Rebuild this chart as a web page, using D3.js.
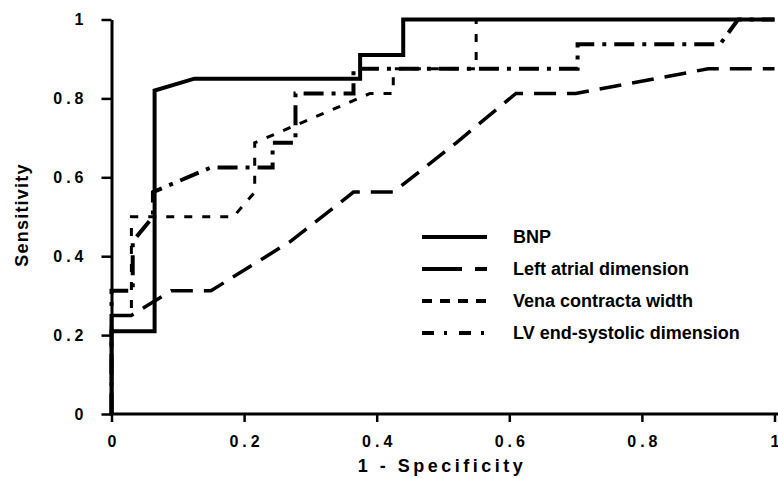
<!DOCTYPE html>
<html>
<head>
<meta charset="utf-8">
<script src="https://cdn.jsdelivr.net/npm/d3@7"></script>
<style>
  body { margin: 0; background: #fff; }
  svg { display: block; }
  text { font-family: "Liberation Sans", Arial, sans-serif; font-weight: bold; fill: #000; }
</style>
</head>
<body>
<div id="roc"></div>
<script>
// ROC curves, points are [1 - specificity, sensitivity]
var bnp = [[0, 0], [0, 0.21], [0.065, 0.21], [0.065, 0.82], [0.125, 0.85], [0.375, 0.85],
           [0.375, 0.91], [0.44, 0.91], [0.44, 1], [1, 1]];
var leftAtrial = [[0, 0], [0, 0.25], [0.03, 0.25], [0.09, 0.3125], [0.15, 0.3125], [0.27, 0.4375],
                  [0.365, 0.5625], [0.425, 0.5625], [0.52, 0.6875], [0.61, 0.8125], [0.70, 0.8125],
                  [0.9, 0.875], [1, 0.875]];
var venaContracta = [[0, 0], [0, 0.25], [0.03, 0.25], [0.03, 0.5], [0.184, 0.5], [0.216, 0.5625],
                     [0.216, 0.6875], [0.39, 0.8125], [0.425, 0.8125], [0.425, 0.875], [0.55, 0.875],
                     [0.55, 1], [1, 1]];
var lvSystolic = [[0, 0], [0, 0.3125], [0.032, 0.3125], [0.032, 0.4375], [0.0625, 0.5], [0.0625, 0.5625],
                  [0.15, 0.625], [0.243, 0.625], [0.243, 0.6875], [0.2775, 0.6875], [0.2775, 0.8125],
                  [0.365, 0.8125], [0.365, 0.875], [0.703, 0.875], [0.703, 0.9375], [0.918, 0.9375],
                  [0.945, 1], [1, 1]];

var seriesNames = ["BNP", "Left atrial dimension", "Vena contracta width", "LV end-systolic dimension"];
var xTicks = [0, 0.2, 0.4, 0.6, 0.8, 1];
var yTicks = [0, 0.2, 0.4, 0.6, 0.8, 1];

var width = 778, height = 478;

var x = d3.scaleLinear().domain([0, 1]).range([111.5, 774.5]);
var y = d3.scaleLinear().domain([0, 1]).range([414, 19.5]);

var svg = d3.select("#roc").append("svg")
    .attr("width", width)
    .attr("height", height);

// styles per series: curve dash, legend dash, width
var styles = [
  {data: bnp, dash: null, legendDash: null, w: 4},
  {data: leftAtrial, dash: "22 11", legendDash: "40 13 12 100", w: 3.5},
  {data: venaContracta, dash: "8 10", legendDash: "10 8", w: 3},
  {data: lvSystolic, dash: "20 8 4 8", legendDash: "12 10 3 12", w: 4}
];

var line = d3.line()
    .x(function(d) { return x(d[0]); })
    .y(function(d) { return y(d[1]); });

styles.forEach(function(s) {
  svg.append("path")
     .datum(s.data)
     .attr("d", line)
     .attr("fill", "none")
     .attr("stroke", "#000")
     .attr("stroke-width", s.w)
     .attr("stroke-dasharray", s.dash);
});

// axes
var xAxis = svg.append("g")
    .attr("transform", "translate(0," + y(0) + ")")
    .call(d3.axisBottom(x).tickValues(xTicks).tickSize(8).tickSizeOuter(0)
          .tickPadding(14).tickFormat(d3.format("")));
xAxis.select(".domain").attr("stroke-width", 3).attr("d", "M" + (x(0) - 2) + ",0H" + width);
xAxis.selectAll(".tick line").attr("stroke-width", 2.5);
xAxis.selectAll("text")
     .style("font-size", "16px")
     .style("letter-spacing", "4px")
     .attr("dx", "2px");

var yAxis = svg.append("g")
    .attr("transform", "translate(" + x(0) + ",0)")
    .call(d3.axisLeft(y).tickValues(yTicks).tickSize(10).tickSizeOuter(0)
          .tickPadding(18).tickFormat(d3.format("")));
yAxis.select(".domain").attr("stroke-width", 3);
yAxis.selectAll(".tick line").attr("stroke-width", 2.5);
yAxis.selectAll("text")
     .style("font-size", "16px")
     .style("letter-spacing", "4px")
     .attr("dx", "4px");

svg.append("text")
   .attr("x", 442)
   .attr("y", 472)
   .attr("text-anchor", "middle")
   .style("font-size", "18px")
   .style("letter-spacing", "3.5px")
   .text("1 - Specificity");

svg.append("text")
   .attr("transform", "rotate(-90)")
   .attr("x", -215)
   .attr("y", 28)
   .attr("text-anchor", "middle")
   .style("font-size", "18px")
   .style("letter-spacing", "1.2px")
   .text("Sensitivity");

// legend
var legend = svg.append("g");
styles.forEach(function(s, i) {
  var ly = 237 + i * 32;
  legend.append("line")
        .attr("x1", 422).attr("x2", 487)
        .attr("y1", ly).attr("y2", ly)
        .attr("stroke", "#000")
        .attr("stroke-width", 4)
        .attr("stroke-dasharray", s.legendDash);
  legend.append("text")
        .attr("x", 513)
        .attr("y", ly)
        .attr("dy", "0.35em")
        .style("font-size", "18px")
        .text(seriesNames[i]);
});
</script>
</body>
</html>
